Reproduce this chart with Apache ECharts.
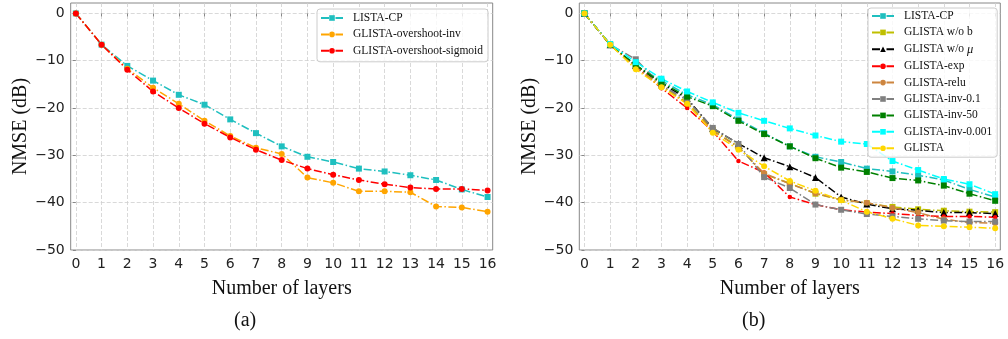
<!DOCTYPE html>
<html>
<head>
<meta charset="utf-8">
<script src="https://cdn.jsdelivr.net/npm/echarts@6.0.0/dist/echarts.min.js"></script>
<style>
  html, body { margin: 0; padding: 0; background: #fff; }
  #chart { width: 1008px; height: 339px; }
</style>
</head>
<body>
<div id="chart"></div>
<script>
// x axis: number of layers
const layers = [0, 1, 2, 3, 4, 5, 6, 7, 8, 9, 10, 11, 12, 13, 14, 15, 16];
const yTicks = [-50, -40, -30, -20, -10, 0];

// (a)
const listaCP = [0, -6.6, -11.1, -14.2, -17.2, -19.3, -22.4, -25.3, -28.1, -30.3, -31.4, -32.8, -33.4, -34.2, -35.2, -37.2, -38.8];
const overshootInv = [0, -6.6, -11.7, -15.7, -19.1, -22.7, -25.9, -28.4, -29.7, -34.7, -35.8, -37.6, -37.6, -37.8, -40.8, -41.0, -41.9];
const overshootSigmoid = [0, -6.6, -11.9, -16.5, -20.0, -23.3, -26.2, -28.8, -31.0, -32.8, -34.1, -35.2, -36.1, -36.8, -37.1, -37.1, -37.4];

// (b)
const woB = [0, -6.6, -11.2, -15.3, -18.8, -24.6, -28.2, -34.0, -35.9, -38.1, -39.4, -40.1, -40.9, -41.4, -41.7, -41.9, -42.0];
const woMu = [0, -6.6, -11.0, -14.8, -18.0, -24.3, -27.5, -30.5, -32.4, -34.7, -38.8, -40.3, -41.3, -41.6, -42.1, -42.1, -42.3];
const glistaExp = [0, -6.6, -11.2, -15.8, -20.0, -24.9, -31.2, -33.6, -38.8, -40.4, -41.5, -42.0, -42.3, -42.7, -42.9, -42.9, -43.1];
const glistaRelu = [0, -6.6, -11.3, -15.5, -19.0, -24.8, -28.3, -33.8, -36.0, -38.0, -39.4, -40.0, -41.1, -42.1, -43.5, -44.2, -44.3];
const inv01 = [0, -6.6, -9.7, -15.2, -18.3, -24.2, -27.6, -34.6, -36.9, -40.4, -41.5, -42.4, -42.9, -43.4, -43.8, -44.0, -44.0];
const inv50 = [0, -6.6, -10.9, -14.6, -17.6, -19.6, -22.7, -25.5, -28.1, -30.6, -32.6, -33.5, -34.8, -35.3, -36.4, -38.1, -39.6];
const inv0001 = [0, -6.5, -10.3, -13.8, -16.5, -18.8, -21.0, -22.7, -24.3, -25.8, -27.1, -27.6, -31.2, -33.1, -35.0, -36.1, -38.2];
const glista = [0, -6.6, -11.8, -15.6, -19.1, -25.2, -28.8, -32.3, -35.4, -37.5, -39.5, -41.9, -43.4, -44.8, -45.0, -45.2, -45.4];

const serif = '"Liberation Serif", "Times New Roman", serif';
const sans = '"DejaVu Sans", sans-serif';
const dashDot = [8, 2.5, 1.5, 2.5];

const pairs = vals => layers.map((x, i) => [x, vals[i]]);

function line(name, vals, color, symbol, size, idx) {
  return {
    name: name,
    type: 'line',
    xAxisIndex: idx,
    yAxisIndex: idx,
    data: pairs(vals),
    symbol: symbol,
    symbolSize: size,
    color: color,
    itemStyle: { color: color },
    lineStyle: { color: color, width: 1.5, type: dashDot },
    emphasis: { disabled: true },
  };
}

function xAxis(idx) {
  return {
    type: 'value',
    gridIndex: idx,
    min: -0.2,
    max: 16.2,
    name: 'Number of layers',
    nameLocation: 'middle',
    nameGap: 29,
    nameTextStyle: { fontFamily: serif, fontSize: 20, color: '#111' },
    axisLine: { show: false },
    axisTick: { show: true, length: 3, customValues: layers, lineStyle: { color: '#888' } },
    axisLabel: { customValues: layers, margin: 7, fontFamily: sans, fontSize: 14, color: '#222' },
    splitLine: { show: true, lineStyle: { color: '#cfcfcf', width: 0.8, type: [4, 2] } },
  };
}

function yAxis(idx) {
  return {
    type: 'value',
    gridIndex: idx,
    min: -50,
    max: 2.2,
    name: 'NMSE (dB)',
    nameLocation: 'middle',
    nameGap: 40,
    nameTextStyle: { fontFamily: serif, fontSize: 20, color: '#111' },
    axisLine: { show: false },
    axisTick: { show: true, length: 3, customValues: yTicks, lineStyle: { color: '#888' } },
    axisLabel: {
      customValues: yTicks,
      margin: 6,
      fontFamily: sans,
      fontSize: 14,
      color: '#222',
      formatter: v => (v < 0 ? '\u2212' + Math.abs(v) : String(v)),
    },
    splitLine: { show: true, lineStyle: { color: '#cfcfcf', width: 0.8, type: [4, 2] } },
  };
}

function legend(names, left, top, padding) {
  return {
    data: names,
    orient: 'vertical',
    left: left,
    top: top,
    itemWidth: 22,
    itemHeight: 7,
    itemGap: 4.4,
    padding: padding,
    borderColor: '#cccccc',
    borderWidth: 1,
    borderRadius: 3,
    backgroundColor: 'rgba(255,255,255,0.8)',
    formatter: n => n.replace('μ', '{i|μ}'),
    textStyle: {
      fontFamily: serif,
      fontSize: 11.5,
      lineHeight: 12,
      color: '#111',
      padding: [0, 0, 0, 5],
      rich: { i: { fontFamily: serif, fontStyle: 'italic', fontSize: 12.5, lineHeight: 12 } },
    },
  };
}

const chart = echarts.init(document.getElementById('chart'), null, { renderer: 'canvas' });

chart.setOption({
  animation: false,
  backgroundColor: '#fff',
  grid: [
    { left: 70.7, top: 3, width: 422, height: 247, show: true, borderColor: '#888', borderWidth: 1, backgroundColor: 'transparent' },
    { left: 579.3, top: 3, width: 421, height: 247, show: true, borderColor: '#888', borderWidth: 1, backgroundColor: 'transparent' },
  ],
  xAxis: [xAxis(0), xAxis(1)],
  yAxis: [yAxis(0), yAxis(1)],
  legend: [
    legend(['LISTA-CP', 'GLISTA-overshoot-inv', 'GLISTA-overshoot-sigmoid'], 317, 9, [3, 5, 5, 3]),
    legend(['LISTA-CP', 'GLISTA w/o b', 'GLISTA w/o μ', 'GLISTA-exp', 'GLISTA-relu',
            'GLISTA-inv-0.1', 'GLISTA-inv-50', 'GLISTA-inv-0.001', 'GLISTA'], 868, 8, [2, 5, 3, 3]),
  ],
  graphic: [
    { type: 'text', left: 234, top: 311, style: { text: '(a)', font: '20px ' + serif, fill: '#111' } },
    { type: 'text', left: 742, top: 311, style: { text: '(b)', font: '20px ' + serif, fill: '#111' } },
  ],
  series: [
    line('LISTA-CP', listaCP, '#1fbfbf', 'rect', 6, 0),
    line('GLISTA-overshoot-inv', overshootInv, '#ffa500', 'circle', 6, 0),
    line('GLISTA-overshoot-sigmoid', overshootSigmoid, '#ff0000', 'circle', 6, 0),

    line('LISTA-CP', listaCP, '#1fbfbf', 'rect', 6, 1),
    line('GLISTA w/o b', woB, '#bfbf00', 'rect', 6, 1),
    line('GLISTA w/o μ', woMu, '#000000', 'triangle', 7, 1),
    line('GLISTA-exp', glistaExp, '#ff0000', 'circle', 4.5, 1),
    line('GLISTA-relu', glistaRelu, '#cd853f', 'circle', 6, 1),
    line('GLISTA-inv-0.1', inv01, '#808080', 'rect', 6, 1),
    line('GLISTA-inv-50', inv50, '#008000', 'rect', 6, 1),
    line('GLISTA-inv-0.001', inv0001, '#00ffff', 'rect', 6, 1),
    line('GLISTA', glista, '#ffd700', 'circle', 6, 1),
  ],
});
</script>
</body>
</html>
